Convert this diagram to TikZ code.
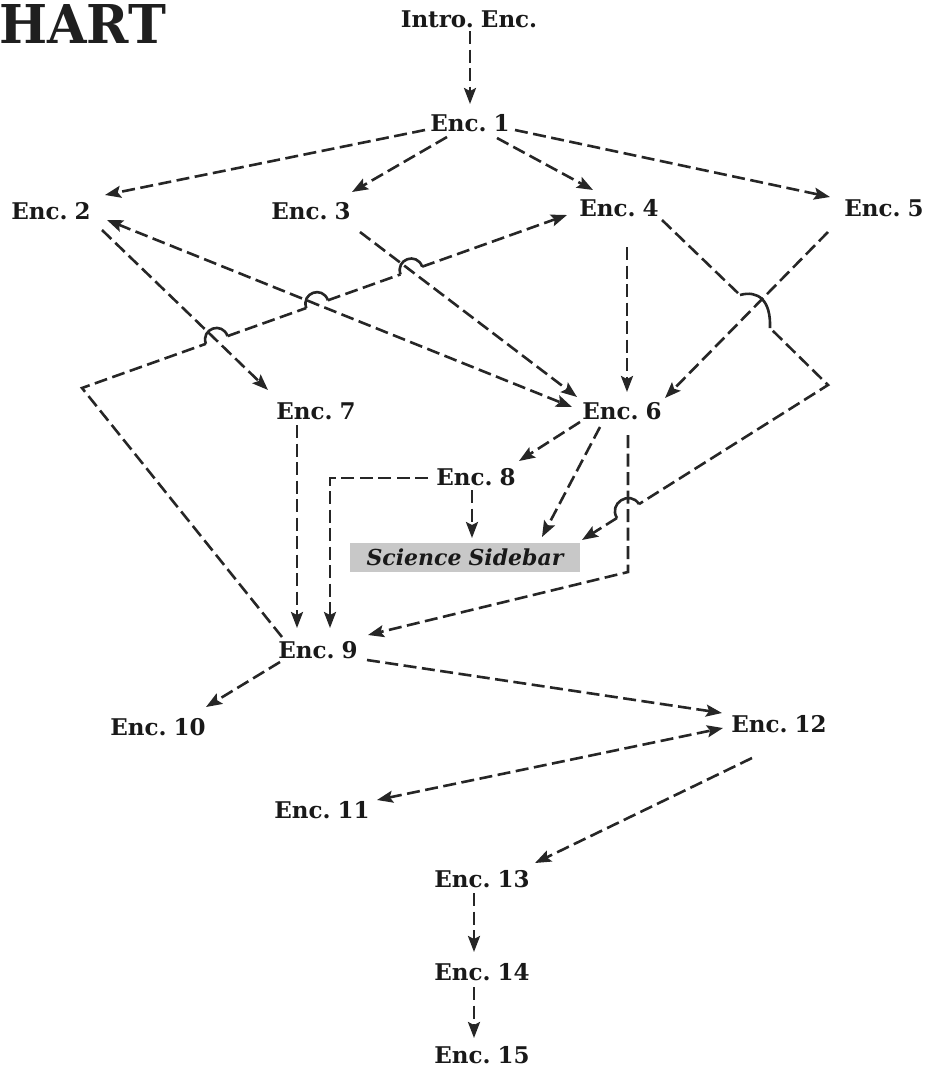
\documentclass[tikz,border=0pt]{standalone}
\usepackage{fontspec}
\setmainfont{DejaVu Serif}[WordSpace=0.55]
\usepackage{graphicx}
\usetikzlibrary{arrows.meta,calc,intersections}
\begin{document}
\begin{tikzpicture}[x=1pt,y=-1pt,
  lbl/.style={font=\fontsize{23}{23}\selectfont\bfseries, inner sep=2pt, text=black!90},
  dsh/.style={line width=2.6pt, dash pattern=on 13pt off 5.5pt, draw=black!85},
  tip/.tip={Stealth[length=16pt,width=12pt,inset=3pt]},
  arr/.style={dsh, -tip},
  darr/.style={dsh, tip-tip},
  hump/.style={line width=2.6pt, draw=black!85}]
\useasboundingbox (0,0) rectangle (925,1069);
% title
\node[anchor=south west, inner sep=0pt, text=black!88] (title) at (-1,44) {\resizebox{167pt}{39pt}{\bfseries HART}};
% nodes
\node[lbl] (intro) at (469,19) {Intro. Enc.};
\node[lbl] (e1) at (470,123) {Enc. 1};
\node[lbl] (e2) at (51,211) {Enc. 2};
\node[lbl] (e3) at (311,211) {Enc. 3};
\node[lbl] (e4) at (619,208) {Enc. 4};
\node[lbl] (e5) at (884,208) {Enc. 5};
\node[lbl] (e6) at (622,411) {Enc. 6};
\node[lbl] (e7) at (316,411) {Enc. 7};
\node[lbl] (e8) at (476,477) {Enc. 8};
\node[lbl, font=\fontsize{22}{22}\selectfont\bfseries\itshape, fill={rgb,255:red,200;green,200;blue,200}, minimum width=230pt, minimum height=29pt, inner sep=0pt] (sb) at (465,557) {Science\hspace{7pt}Sidebar};
\node[lbl] (e9) at (318,650) {Enc. 9};
\node[lbl] (e10) at (158,727) {Enc. 10};
\node[lbl] (e12) at (779,724) {Enc. 12};
\node[lbl] (e11) at (322,810) {Enc. 11};
\node[lbl] (e13) at (482,879) {Enc. 13};
\node[lbl] (e14) at (482,972) {Enc. 14};
\node[lbl] (e15) at (482,1055) {Enc. 15};
% connectors
\draw[arr] ([shift={(1,12)}]intro.center) -- ([shift={(0,-19)}]e1.center);
\draw[arr] ([shift={(-45,7)}]e1.center) -- ([shift={(54,-16)}]e2.center);
\draw[arr] ([shift={(-23,14)}]e1.center) -- ([shift={(41,-19)}]e3.center);
\draw[arr] ([shift={(27,15)}]e1.center) -- ([shift={(-26,-18)}]e4.center);
\draw[arr] ([shift={(45,7)}]e1.center) -- ([shift={(-54,-11)}]e5.center);
\draw[darr, name path=l6] ([shift={(56,9)}]e2.center) -- ([shift={(-50,-4)}]e6.center);
\draw[arr, name path=l7] ([shift={(51,19)}]e2.center) -- ([shift={(-48,-21)}]e7.center);
\draw[arr, name path=l8] ([shift={(49,21)}]e3.center) -- ([shift={(-45,-14)}]e6.center);
\draw[arr] ([shift={(8,39)}]e4.center) -- ([shift={(5,-19)}]e6.center);
\draw[arr] ([shift={(-56,24)}]e5.center) -- ([shift={(43,-13)}]e6.center);
% Enc 9 -> Enc 4 with line jumps
\coordinate (j0) at ([shift={(-36,-13)}]e9.center);
\coordinate (jc) at (82,388);
\coordinate (j1) at ([shift={(-52,7)}]e4.center);
\path[name path=jl] (jc) -- (j1);
\path[name intersections={of=jl and l7,by=ja}];
\path[name intersections={of=jl and l6,by=jb}];
\path[name intersections={of=jl and l8,by=jx}];
\foreach \p in {ja,jb,jx}{
  \coordinate (\p m) at ($(\p)!11pt!(jc)$);
  \coordinate (\p p) at ($(\p)!12pt!(j1)$);
  \draw[hump] (\p m) .. controls ($(\p m)!16pt!90:(\p)$) and ($(\p p)!16pt!-90:(\p)$) .. (\p p);
}
\draw[dsh] (j0) -- (jc) -- (jam);
\draw[dsh] (jap) -- (jbm);
\draw[dsh] (jbp) -- (jxm);
\draw[arr] (jxp) -- (j1);
% Enc 6 -> Enc 8, Sidebar, Enc 9
\draw[arr] ([shift={(-42,11)}]e6.center) -- ([shift={(43,-16)}]e8.center);
\draw[arr] ([shift={(-22,16)}]e6.center) -- ([shift={(77,-20)}]sb.center);
\coordinate (m1) at (628,572);
\draw[arr, name path=l15] ([shift={(6,24)}]e6.center) -- (m1) -- ([shift={(50,-15)}]e9.center);
% Enc 4 -> Sidebar with jumps
\coordinate (k0) at ([shift={(43,12)}]e4.center);
\coordinate (k1) at (740,295);
\coordinate (k2) at (770,328);
\coordinate (kc) at (828,385);
\coordinate (k3) at ([shift={(117,-17)}]sb.center);
\draw[dsh] (k0) -- (k1);
\draw[hump] (k1) .. controls (758,290) and (771,300) .. (k2);
\path[name path=kl] (kc) -- (k3);
\path[name intersections={of=kl and l15,by=kx}];
\coordinate (kxm) at ($(kx)!13pt!(kc)$);
\coordinate (kxp) at ($(kx)!13pt!(k3)$);
\draw[hump] (kxm) .. controls ($(kxm)!17pt!-90:(kx)$) and ($(kxp)!17pt!90:(kx)$) .. (kxp);
\draw[dsh] ($(k2)!4pt!(kc)$) -- (kc) -- (kxm);
\draw[arr] (kxp) -- (k3);
% Enc 8
\draw[arr] ([shift={(-48,1)}]e8.center) -| ([shift={(12,-22)}]e9.center);
\draw[arr] ([shift={(-4,13)}]e8.center) -- ([shift={(7,-19)}]sb.center);
% Enc 7 -> Enc 9
\draw[arr] ([shift={(-19,14)}]e7.center) -- ([shift={(-21,-22)}]e9.center);
% Enc 9 onwards
\draw[arr] ([shift={(-38,12)}]e9.center) -- ([shift={(48,-20)}]e10.center);
\draw[arr] ([shift={(49,10)}]e9.center) -- ([shift={(-57,-11)}]e12.center);
\draw[darr] ([shift={(55,-10)}]e11.center) -- ([shift={(-56,4)}]e12.center);
\draw[arr] ([shift={(-27,34)}]e12.center) -- ([shift={(53,-16)}]e13.center);
\draw[arr] ([shift={(-8,14)}]e13.center) -- ([shift={(-8,-20)}]e14.center);
\draw[arr] ([shift={(-8,15)}]e14.center) -- ([shift={(-8,-17)}]e15.center);
\end{tikzpicture}
\end{document}
